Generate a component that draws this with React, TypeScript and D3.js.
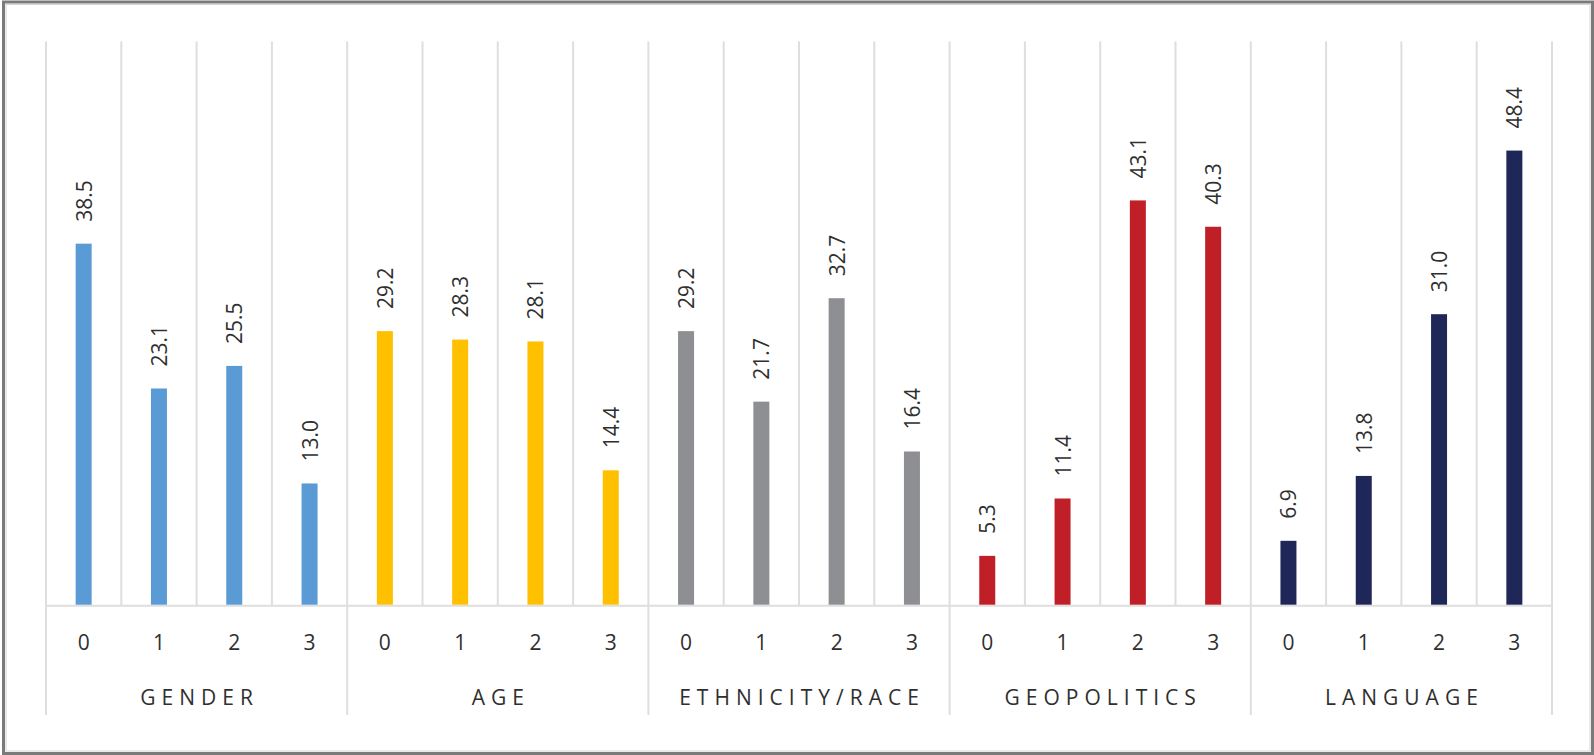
import React, { useEffect, useRef } from 'react';
import * as d3 from 'd3';

const groups = ['GENDER', 'AGE', 'ETHNICITY/RACE', 'GEOPOLITICS', 'LANGUAGE'];
const levels = ['0', '1', '2', '3'];
const genderValues = [38.5, 23.1, 25.5, 13.0];
const ageValues = [29.2, 28.3, 28.1, 14.4];
const ethnicityValues = [29.2, 21.7, 32.7, 16.4];
const geopoliticsValues = [5.3, 11.4, 43.1, 40.3];
const languageValues = [6.9, 13.8, 31.0, 48.4];
const groupColors = ['#5b9bd5', '#ffc000', '#8e8f93', '#c01f28', '#1f2759'];

const seriesValues = [genderValues, ageValues, ethnicityValues, geopoliticsValues, languageValues];

interface Row {
  key: string;
  group: number;
  level: string;
  value: number;
}

const rows: Row[] = groups.flatMap((g, gi) =>
  levels.map((l, li) => ({ key: `${gi}-${l}`, group: gi, level: l, value: seriesValues[gi][li] }))
);

const W = 1594;
const H = 755;

const App: React.FC = () => {
  const svgRef = useRef<SVGSVGElement>(null);

  useEffect(() => {
    document.body.style.margin = '0';
    if (!svgRef.current) return;
    const svg = d3.select(svgRef.current);
    svg.selectAll('*').remove();

    const left = 46;
    const right = 1552;
    const top = 41.5;
    const base = 605.7;
    const groupBottom = 715;
    const font = '"Open Sans", "Noto Sans", sans-serif';
    const textColor = '#2f2f2f';
    const gridColor = '#dedede';

    const x = d3.scaleBand<string>()
      .domain(rows.map(d => d.key))
      .range([left, right])
      .padding(0);

    const y = d3.scaleLinear()
      .domain([0, 60])
      .range([base, top]);

    const bw = x.bandwidth();

    // Frame
    svg.append('rect')
      .attr('x', 0).attr('y', 0).attr('width', W).attr('height', H)
      .attr('fill', '#ffffff');
    svg.append('rect')
      .attr('x', 3.5).attr('y', 2).attr('width', W - 5).attr('height', H - 3.5)
      .attr('fill', 'none')
      .attr('stroke', '#7a7a7a')
      .attr('stroke-width', 3);
    svg.append('rect')
      .attr('x', 6).attr('y', 4.5).attr('width', W - 10).attr('height', H - 8.5)
      .attr('fill', 'none')
      .attr('stroke', '#d4d4d4')
      .attr('stroke-width', 1);

    // Vertical grid lines at band boundaries
    const bounds = d3.range(rows.length + 1);
    svg.append('g')
      .selectAll('line')
      .data(bounds)
      .join('line')
      .attr('x1', i => left + i * bw)
      .attr('x2', i => left + i * bw)
      .attr('y1', y(60))
      .attr('y2', i => (i % levels.length === 0 ? groupBottom : base))
      .attr('stroke', gridColor)
      .attr('stroke-width', 2);

    // Baseline
    svg.append('line')
      .attr('x1', left).attr('x2', right)
      .attr('y1', base).attr('y2', base)
      .attr('stroke', gridColor)
      .attr('stroke-width', 2);

    // Bars
    const barW = 16;
    svg.append('g')
      .selectAll('rect')
      .data(rows)
      .join('rect')
      .attr('x', d => (x(d.key) || 0) + bw / 2 - barW / 2)
      .attr('y', d => y(d.value))
      .attr('width', barW)
      .attr('height', d => base - 1 - y(d.value))
      .attr('fill', d => groupColors[d.group]);

    // Value labels (rotated)
    svg.append('g')
      .selectAll('text')
      .data(rows)
      .join('text')
      .attr('transform', d => `translate(${(x(d.key) || 0) + bw / 2},${y(d.value) - 22}) rotate(-90)`)
      .attr('text-anchor', 'start')
      .attr('dominant-baseline', 'central')
      .style('font-family', font)
      .style('font-size', '21px')
      .style('font-weight', 500)
      .style('fill', textColor)
      .text(d => d.value.toFixed(1));

    // Level tick labels
    svg.append('g')
      .selectAll('text')
      .data(rows)
      .join('text')
      .attr('x', d => (x(d.key) || 0) + bw / 2)
      .attr('y', 642)
      .attr('text-anchor', 'middle')
      .attr('dominant-baseline', 'central')
      .style('font-family', font)
      .style('font-size', '21px')
      .style('font-weight', 500)
      .style('fill', textColor)
      .text(d => d.level);

    // Group labels
    const spacing = 6;
    svg.append('g')
      .selectAll('text')
      .data(groups)
      .join('text')
      .attr('x', (g, gi) => left + (gi * levels.length + levels.length / 2) * bw + spacing / 2)
      .attr('y', 697)
      .attr('text-anchor', 'middle')
      .attr('dominant-baseline', 'central')
      .style('font-family', font)
      .style('font-size', '21px')
      .style('font-weight', 500)
      .style('letter-spacing', `${spacing}px`)
      .style('fill', textColor)
      .text(g => g);
  }, []);

  return (
    <svg
      ref={svgRef}
      width={W}
      height={H}
      style={{ display: 'block', position: 'absolute', left: 0, top: 0 }}
    />
  );
};

export default App;
